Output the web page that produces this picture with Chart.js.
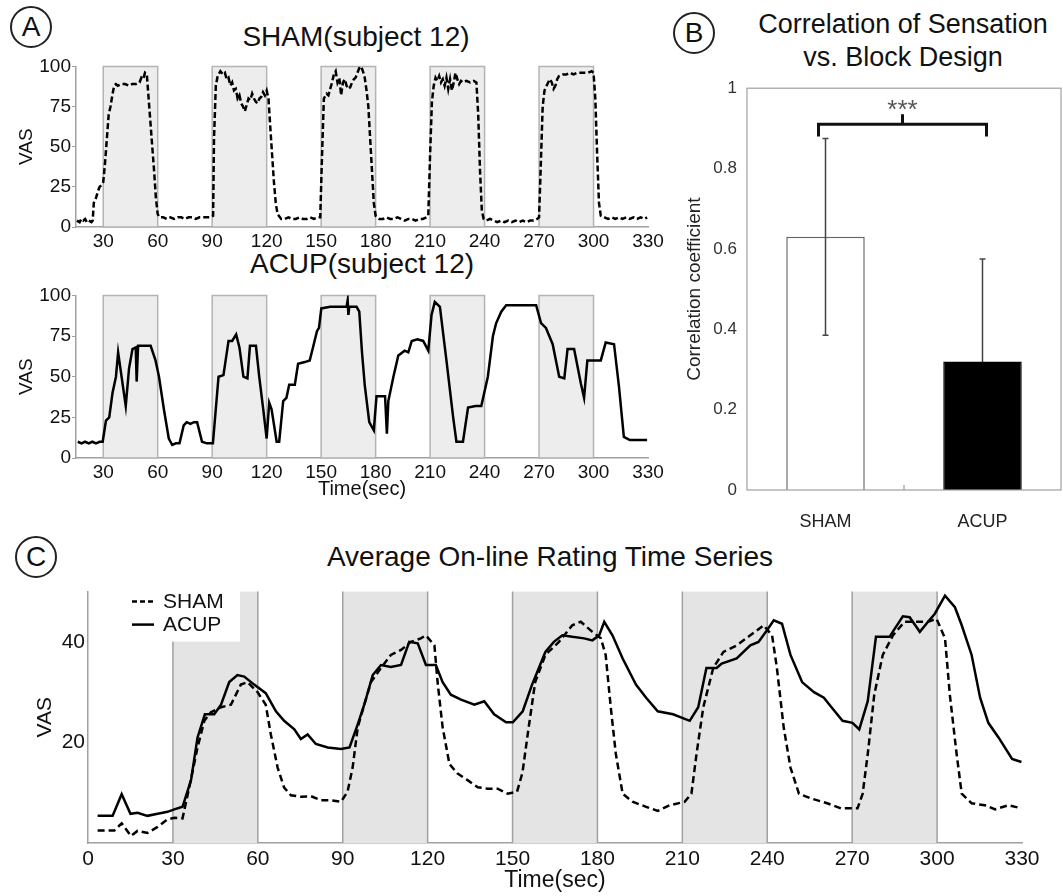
<!DOCTYPE html>
<html>
<head>
<meta charset="utf-8">
<script src="https://cdn.jsdelivr.net/npm/chart.js@4.4.0/dist/chart.umd.min.js"></script>
<style>
  body { margin: 0; background: #fff; width: 1063px; height: 896px; position: relative; overflow: hidden;
         font-family: "Liberation Sans", Arial, Helvetica, sans-serif; color: #111; }
  canvas { position: absolute; }
  .ttl { position: absolute; transform: translateX(-50%); white-space: nowrap; line-height: 1; }
  .circ { position: absolute; width: 38px; height: 38px; border: 2px solid #222; border-radius: 50%;
          display: flex; align-items: center; justify-content: center; font-size: 28px; line-height: 1; }
</style>
</head>
<body>
<div class="circ" style="left:10px;top:6px;">A</div>
<div class="circ" style="left:673px;top:12px;">B</div>
<div class="circ" style="left:15px;top:536px;">C</div>

<div class="ttl" style="left:356px;top:23px;font-size:28px;">SHAM(subject 12)</div>
<div class="ttl" style="left:362px;top:250px;font-size:28px;">ACUP(subject 12)</div>
<div class="ttl" style="left:903px;top:11px;font-size:27px;">Correlation of Sensation</div>
<div class="ttl" style="left:903px;top:44px;font-size:27px;">vs. Block Design</div>
<div class="ttl" style="left:550px;top:543px;font-size:28px;">Average On-line Rating Time Series</div>

<canvas id="shamSubj" width="666" height="203" style="left:6px;top:54px;"></canvas>
<canvas id="acupSubj" width="666" height="220" style="left:6px;top:283px;"></canvas>
<canvas id="corrBars" width="386" height="467" style="left:677px;top:68px;"></canvas>
<canvas id="avgSeries" width="1049" height="320" style="left:3px;top:576px;"></canvas>

<script>
Chart.defaults.font.family = '"Liberation Sans", Arial, Helvetica, sans-serif';
Chart.defaults.color = '#111';

// stimulation blocks (sec) and tick labels
const stimBlocks = [[30, 60], [90, 120], [150, 180], [210, 240], [270, 300]];
const timeTicksA = [30, 60, 90, 120, 150, 180, 210, 240, 270, 300, 330];
const timeTicksC = [0, 30, 60, 90, 120, 150, 180, 210, 240, 270, 300, 330];
const vasTicksA = [0, 25, 50, 75, 100];
const vasTicksC = [20, 40];
const corrTicks = [0, 0.2, 0.4, 0.6, 0.8, 1];

// panel A: single subject ratings [time, VAS]
const shamSubject12 = [[15.5,4],[17,3],[18,5],[19,4],[20,5],[21,3],[22,4],[23.5,3],[24.2,4],[24.8,15],[26,18],[27,22],[28,25],[29,26],[30,28],[31,40],[32,55],[33,70],[34,75],[35,82],[36,88],[37,89],[38,88],[40,89],[42,89],[44,88],[46,89],[48,89],[50,90],[51,93],[52,92],[53,96],[54,95],[55,80],[56,65],[57,50],[58,35],[59,18],[60,8],[61,6],[63,6],[65,5],[67,6],[69,5],[71,6],[73,6],[75,5],[77,6],[79,6],[81,5],[83,6],[85,6],[87,6],[89,6],[90.5,7],[91,55],[92,88],[93,94],[94.5,97],[96,95],[97,96],[98,92],[99,93],[100,88],[101,90],[102,85],[103,86],[104,80],[105,82],[106,77],[107,75],[108,72],[109,76],[110,80],[111,79],[112,83],[113,80],[114,78],[115,77],[116,80],[117,81],[118,84],[119,82],[120,85],[121,80],[122,62],[123,45],[124,28],[125,15],[126,8],[128,5],[130,5],[132,6],[134,5],[136,5],[138,6],[140,5],[142,5],[144,6],[146,5],[148,6],[149.5,6],[150.5,45],[151.5,80],[153,83],[154,82],[155,86],[156,90],[157,95],[158,97],[159,90],[160,93],[161,82],[162,90],[163,92],[164,88],[165,86],[166,87],[167,90],[168,92],[169,93],[170,96],[171,99],[172,100],[173,97],[174,93],[175,85],[176,75],[177,55],[178,35],[179,15],[180,7],[182,5],[184,5],[186,6],[188,5],[190,5],[192,6],[194,5],[196,4],[198,5],[200,5],[202,4],[204,5],[206,5],[208,6],[209,7],[210,45],[211,78],[212,88],[213,93],[214,91],[215,94],[216,90],[217,92],[218,88],[219,93],[220,86],[221,92],[222,85],[223,90],[224,96],[225,92],[226,89],[227,91],[228,90],[230,91],[232,90],[234,91],[235.5,90],[236.5,70],[237.5,35],[238.5,10],[239.5,5],[241,4],[243,5],[245,4],[247,3],[249,4],[251,3],[253,4],[255,3],[257,4],[259,3],[261,4],[263,3],[265,4],[267,4],[269,5],[270,6],[271,40],[272,75],[273,85],[275,90],[276,92],[277,90],[278,86],[279,88],[280,92],[281,94],[283,95],[285,95],[287,96],[289,95],[291,96],[293,96],[295,96],[297,96],[299,97],[300,96],[301,80],[302,45],[303,15],[304,7],[306,6],[308,5],[310,6],[312,5],[314,6],[316,5],[318,6],[320,5],[322,6],[324,5],[326,6],[328,5],[329.5,6]];

const acupSubject12 = [[16,10],[18,9],[20,10],[22,9],[24,10],[26,9],[28,10],[29.7,10],[31.5,23],[33.3,25],[35.1,40],[37,50],[38.2,65],[40.1,50],[42.4,32],[44.2,55],[46.1,67],[47.9,68],[48.4,47],[49.2,69],[52,69],[56.1,69],[58.8,60],[60.7,50],[63.4,30],[66.1,12],[68,8],[70,9],[72,9],[74.3,20],[76,22],[78,21],[80,22],[81.7,22],[84.4,10],[87,9],[90.4,9],[93.5,50],[96.2,51],[99,72],[101,72],[103.2,76],[105,68],[107.2,50],[109.4,49],[110.8,69],[114.1,69],[115.9,50],[118.1,30],[120,12],[121.4,34],[122.7,30],[125.5,10],[126.9,10],[129.1,35],[130.9,37],[132.4,45],[135.5,45],[137.3,58],[141,59],[143.7,60],[145.5,68],[147.7,78],[148.8,80],[150.1,92],[155,93],[160,93],[164,93],[164.6,97],[165,88],[165.5,93],[169.5,93],[171,90],[172.5,65],[174,45],[176.5,22],[179,17],[180.5,38],[185.2,38],[186.2,15],[187,35],[189.8,50],[192.5,63],[196,66],[198,65],[199.9,72],[203,73],[206.2,72],[209,66],[210.8,88],[212.6,96],[215.4,93],[219,60],[222.7,25],[224.5,10],[228.1,10],[230.9,31],[235,32],[238.2,32],[241.8,50],[244.6,75],[246.4,83],[249.2,90],[251.9,94],[260,94],[268.4,94],[271.1,83],[273.8,80],[277.5,70],[281.1,50],[283.9,49],[285.7,67],[289.3,67],[293,46],[294.8,37],[296.6,60],[304,60],[306.7,71],[311.3,70],[314,44],[316.7,13],[320,11],[325,11],[329.5,11]];

// panel B: correlation with block design
const groups = ['SHAM', 'ACUP'];
const corrMean = [0.63, 0.32];
const corrSd = [0.245, 0.255];
const sigLevel = 0.91;
const sigText = '***';

// panel C: group average ratings [time, VAS]
const shamAverage = [[3.4,2.5],[9.3,2.5],[11.9,3.9],[15.2,1.4],[17.5,2.4],[21,2],[24.6,3.2],[28.1,4.7],[30.5,5],[33.4,4.9],[35.8,11.1],[38.7,19],[41.1,24.3],[43.4,26],[47,27],[50.5,27.5],[54,31.5],[56.4,32],[59.9,30],[62.8,27.5],[64.6,21.6],[67,15],[69.3,11],[71.7,9.5],[75.2,9.2],[78.8,9.3],[82.3,8.5],[85.8,8.5],[89.4,8.2],[91.7,10.2],[93.5,15],[95.3,23],[97.6,27.5],[100,32],[103.5,34.8],[107,37.4],[110.6,38.4],[114.1,40],[117.6,40.7],[119.4,41.3],[122.4,39.3],[123.6,31.5],[125.3,23],[127.7,15.7],[130.6,13.8],[134.1,12.5],[137.7,11.1],[141.2,10.8],[144.7,10.8],[148.3,9.8],[151.6,10.2],[153.5,14],[155.7,23],[158,32],[161.6,37.4],[166.4,40],[171.1,43.3],[174.1,44],[178.2,42],[181.2,40.7],[182.9,37.4],[184.7,27],[186.5,17.7],[188.9,9.8],[192.4,8.2],[197.2,7.2],[201.3,6.4],[205.5,7.5],[210.8,8.2],[213.2,9.8],[215,17.7],[217.4,27],[220.9,34.8],[224.5,38],[229.2,39.3],[234,41.3],[238.7,43.3],[241.7,41.3],[243.4,34.8],[245.8,23],[248.2,15],[251.2,9.8],[255.3,8.9],[261.2,7.9],[266,6.9],[271.9,6.9],[273.7,9.8],[275.5,17.7],[277.8,29.5],[280.8,37.4],[284.4,41.3],[288.5,44],[293.3,44],[296.8,44],[299.8,44.6],[302.8,40.7],[304.5,29.5],[306.9,17.7],[308.7,9.8],[312.2,7.9],[316.9,7.5],[320.5,6.7],[325.2,7.5],[329.8,6.9]];

const acupAverage = [[3.4,5.4],[8.7,5.4],[11.9,9.7],[15,5.8],[17.5,6],[21,5.4],[24.6,5.8],[28.1,6.2],[30.5,6.7],[33.4,7.2],[36.4,12.5],[38.7,21],[41.3,25.6],[44.6,25.6],[47,27.5],[49.9,32],[52.8,33.4],[55.2,33.1],[58.7,31.5],[62.8,29.8],[66.4,26.2],[69.3,24.3],[72.9,22.6],[75.2,20.7],[77.6,21.6],[80.5,19.7],[84.7,19],[89.4,18.7],[92.4,19],[95.3,23.6],[97.6,27.5],[100.6,33.4],[103.5,35.4],[107,35],[110.6,35.4],[113.5,40],[116.5,39.7],[119.4,35.4],[122.9,35.4],[125.3,32],[128.2,29.5],[131.8,28.5],[136.5,27.5],[140,28.2],[143.5,25.6],[147.7,24],[150.1,24],[153.6,26.2],[156.9,31.5],[159.3,34.8],[161.6,38],[164.6,40],[167.6,41.3],[171.1,41],[175.3,40.7],[178.2,40.3],[180.6,41.3],[182.4,44],[185.3,41.3],[188.9,36.7],[193.6,31.5],[197.2,28.9],[201.3,26.2],[206.7,25.6],[212.6,24.3],[215.6,27],[218.5,34.8],[222.1,34.8],[223.9,35.7],[229.2,36.7],[234,39.3],[236.9,40],[239.9,42.3],[242.3,44.3],[245.2,43.6],[248.2,37.4],[252.3,32],[256.5,30],[260,28.9],[262.4,27.2],[266.6,24.3],[270.1,23.9],[272.5,22.6],[275.5,28.2],[278.4,41],[283.2,41],[285,42.6],[287.9,45.1],[290.3,44.9],[293.9,42],[296.8,44],[299.2,45.6],[302.8,49.2],[306.3,46.9],[308.7,43.3],[312.2,37.4],[315.2,28.9],[318.1,23.9],[321.7,21],[326.5,16.7],[329.8,16.1]];

function fixTicks(list) {
  return s => { s.ticks = list.map(v => ({ value: v })); };
}
function toXY(series) {
  return series.map(([t, v]) => ({ x: t, y: v }));
}

// shaded stimulation blocks, drawn through the scales
const blockPlugin = {
  id: 'blocks',
  beforeDatasetsDraw(chart, args, o) {
    const { ctx, scales: { x, y } } = chart;
    const top = y.getPixelForValue(o.upper), bot = y.getPixelForValue(y.min);
    ctx.save();
    ctx.lineWidth = 1.5;
    ctx.strokeStyle = o.edge;
    ctx.fillStyle = o.fill;
    stimBlocks.forEach(([a, b]) => {
      const l = x.getPixelForValue(a), r = x.getPixelForValue(b);
      ctx.fillRect(l, top, r - l, bot - top);
      ctx.beginPath();
      if (o.frame) {
        ctx.rect(l, top, r - l, bot - top);
      } else {
        ctx.moveTo(l, top); ctx.lineTo(l, bot);
        ctx.moveTo(r, top); ctx.lineTo(r, bot);
      }
      ctx.stroke();
    });
    ctx.restore();
  }
};

function vasChart(id, series, dashed, withTimeTitle) {
  return new Chart(document.getElementById(id), {
    type: 'line',
    data: {
      datasets: [{
        data: toXY(series),
        borderColor: '#000',
        borderWidth: 2.5,
        borderDash: dashed ? [6, 3] : [],
        pointRadius: 0,
        tension: 0,
        fill: false
      }]
    },
    options: {
      responsive: false,
      animation: false,
      layout: { autoPadding: false, padding: { left: 0, right: 24, top: 12, bottom: 0 } },
      plugins: {
        legend: { display: false },
        tooltip: { enabled: false },
        blocks: { upper: 100, fill: '#ededed', edge: '#b4b4b4', frame: true }
      },
      scales: {
        x: {
          type: 'linear', min: 15, max: 330,
          afterBuildTicks: fixTicks(timeTicksA),
          afterFit: s => { s.height = withTimeTitle ? 45 : 30; },
          grid: { display: false, drawTicks: false },
          border: { color: '#a0a0a0', width: 1.5 },
          ticks: { font: { size: 19 }, padding: 3, autoSkip: false, maxRotation: 0, callback: v => String(v) },
          title: { display: withTimeTitle, text: 'Time(sec)', font: { size: 20 }, padding: { top: 0, bottom: 2 } }
        },
        y: {
          min: 0, max: 100,
          afterBuildTicks: fixTicks(vasTicksA),
          afterFit: s => { s.width = 70; },
          grid: { drawOnChartArea: false, drawTicks: true, tickLength: 4, color: '#a0a0a0' },
          border: { color: '#a0a0a0', width: 1.5 },
          ticks: { font: { size: 19 }, padding: 1 },
          title: { display: true, text: 'VAS', font: { size: 19 }, padding: { top: 9, bottom: 0 } }
        }
      }
    },
    plugins: [blockPlugin]
  });
}

vasChart('shamSubj', shamSubject12, true, false);
vasChart('acupSubj', acupSubject12, false, true);

// panel B extras: frame, error bars, significance bracket
const errPlugin = {
  id: 'errbars',
  afterDatasetsDraw(chart) {
    const { ctx, scales: { x, y }, chartArea: a } = chart;
    const bars = chart.getDatasetMeta(0).data;
    ctx.save();
    ctx.strokeStyle = '#a0a0a0';
    ctx.lineWidth = 1.2;
    ctx.strokeRect(a.left, a.top, a.right - a.left, a.bottom - a.top);
    const mid = x.getPixelForValue(0.5);
    ctx.beginPath(); ctx.moveTo(mid, a.bottom); ctx.lineTo(mid, a.bottom - 5); ctx.stroke();

    ctx.globalCompositeOperation = 'darken';
    ctx.strokeStyle = '#444';
    ctx.lineWidth = 1.5;
    bars.forEach((b, i) => {
      const hi = y.getPixelForValue(corrMean[i] + corrSd[i]);
      const lo = y.getPixelForValue(corrMean[i] - corrSd[i]);
      ctx.beginPath();
      ctx.moveTo(b.x, hi); ctx.lineTo(b.x, lo);
      ctx.moveTo(b.x - 3, hi); ctx.lineTo(b.x + 3, hi);
      ctx.moveTo(b.x - 3, lo); ctx.lineTo(b.x + 3, lo);
      ctx.stroke();
    });
    ctx.globalCompositeOperation = 'source-over';

    const x0 = bars[0].x - 7, x1 = bars[1].x + 4;
    const yb = y.getPixelForValue(sigLevel);
    const yd = y.getPixelForValue(sigLevel - 0.03);
    const yu = y.getPixelForValue(sigLevel + 0.025);
    const xm = (x0 + x1) / 2;
    ctx.strokeStyle = '#111';
    ctx.lineWidth = 3;
    ctx.beginPath();
    ctx.moveTo(x0, yd); ctx.lineTo(x0, yb); ctx.lineTo(x1, yb); ctx.lineTo(x1, yd);
    ctx.moveTo(xm, yb); ctx.lineTo(xm, yu);
    ctx.stroke();
    // asterisks sit high in the em box; place their centre just above the bracket tick
    const fs = 26;
    ctx.fillStyle = '#555';
    ctx.font = fs + 'px "Liberation Sans", Arial, sans-serif';
    ctx.textAlign = 'center';
    ctx.textBaseline = 'alphabetic';
    ctx.fillText(sigText, xm, y.getPixelForValue(sigLevel + 0.052) + 0.57 * fs);
    ctx.restore();
  }
};

new Chart(document.getElementById('corrBars'), {
  type: 'bar',
  data: {
    labels: groups,
    datasets: [{
      data: corrMean,
      backgroundColor: ['#ffffff', '#000000'],
      borderColor: ['#666666', '#000000'],
      borderWidth: 1.5,
      barPercentage: 0.5,
      categoryPercentage: 1
    }]
  },
  options: {
    responsive: false,
    animation: false,
    layout: { autoPadding: false, padding: { left: 0, right: 2, top: 12, bottom: 0 } },
    plugins: { legend: { display: false }, tooltip: { enabled: false } },
    scales: {
      x: {
        afterFit: s => { s.height = 45; },
        grid: { display: false, drawTicks: false },
        border: { display: false },
        ticks: { font: { size: 18 }, padding: 21, color: '#222' }
      },
      y: {
        min: 0, max: 1,
        afterBuildTicks: fixTicks(corrTicks),
        afterFit: s => { s.width = 70; },
        grid: { display: false, drawTicks: false },
        border: { display: false },
        ticks: { font: { size: 17 }, padding: 10, color: '#333', callback: v => String(v) },
        title: { display: true, text: 'Correlation coefficient', font: { size: 19 }, padding: { top: 6, bottom: 0 }, color: '#222' }
      }
    }
  },
  plugins: [errPlugin]
});

// panel C legend box inside plot
const boxLegend = {
  id: 'boxLegend',
  afterDatasetsDraw(chart) {
    const { ctx, chartArea: a } = chart;
    const bx = a.left + 39, by = a.top - 1;
    ctx.save();
    ctx.fillStyle = '#fff';
    ctx.fillRect(bx, by, 113, 51);
    chart.data.datasets.forEach((ds, i) => {
      const ly = by + 11 + i * 23;
      ctx.strokeStyle = '#000';
      ctx.lineWidth = 2.5;
      ctx.setLineDash(ds.label === 'SHAM' ? [5, 3] : []);
      ctx.beginPath(); ctx.moveTo(bx + 5, ly); ctx.lineTo(bx + 27, ly); ctx.stroke();
      ctx.setLineDash([]);
      ctx.fillStyle = '#111';
      ctx.font = '21px "Liberation Sans", Arial, sans-serif';
      ctx.textBaseline = 'middle';
      ctx.fillText(ds.label, bx + 36, ly + 1);
    });
    ctx.restore();
  }
};

new Chart(document.getElementById('avgSeries'), {
  type: 'line',
  data: {
    datasets: [
      { label: 'SHAM', data: toXY(shamAverage), borderColor: '#000', borderWidth: 2.5, borderDash: [7, 4], pointRadius: 0, tension: 0, fill: false },
      { label: 'ACUP', data: toXY(acupAverage), borderColor: '#000', borderWidth: 2.5, pointRadius: 0, tension: 0, fill: false }
    ]
  },
  options: {
    responsive: false,
    animation: false,
    layout: { autoPadding: false, padding: { left: 0, right: 30, top: 12, bottom: 0 } },
    plugins: {
      legend: { display: false },
      tooltip: { enabled: false },
      blocks: { upper: 50, fill: '#e4e4e4', edge: '#a0a0a0', frame: false }
    },
    scales: {
      x: {
        type: 'linear', min: 0, max: 330,
        afterBuildTicks: fixTicks(timeTicksC),
        afterFit: s => { s.height = 53; },
        grid: { display: false, drawTicks: false },
        border: { color: '#a0a0a0', width: 1.5 },
        ticks: { font: { size: 21 }, padding: 4, autoSkip: false, maxRotation: 0, callback: v => String(v) },
        title: { display: true, text: 'Time(sec)', font: { size: 23 }, padding: { top: 0, bottom: 2 } }
      },
      y: {
        min: 0, max: 50,
        afterBuildTicks: fixTicks(vasTicksC),
        afterFit: s => { s.width = 85; },
        grid: { display: false, drawTicks: false },
        border: { color: '#a0a0a0', width: 1.5 },
        ticks: { font: { size: 21 }, padding: 3 },
        title: { display: true, text: 'VAS', font: { size: 21 }, padding: { top: 30, bottom: 0 } }
      }
    }
  },
  plugins: [blockPlugin, boxLegend]
});
</script>
</body>
</html>
